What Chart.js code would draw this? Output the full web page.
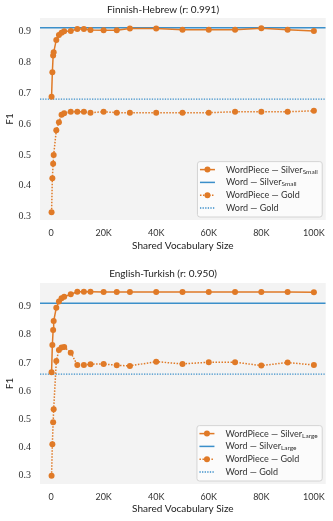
<!DOCTYPE html>
<html>
<head>
<meta charset="utf-8">
<script src="https://cdn.jsdelivr.net/npm/chart.js@4/dist/chart.umd.min.js"></script>
<style>
  body { margin: 0; background: #fff; }
  .panel { position: relative; width: 333px; }
</style>
</head>
<body>
<div class="panel" style="height:258px"><canvas id="fiHe"></canvas></div>
<div class="panel" style="height:263px"><canvas id="enTr"></canvas></div>
<script>
const xMin = -4200
const xMax = 104500
const xTicks = [0, 20000, 40000, 60000, 80000, 100000]
const yTicks = [0.3, 0.4, 0.5, 0.6, 0.7, 0.8, 0.9]

const vocabSizes = [200, 500, 800, 1000, 2000, 3000, 4000, 5000, 7500, 10000, 12500, 15000,
  20000, 25000, 30000, 40000, 50000, 60000, 70000, 80000, 90000, 100000]

// Finnish-Hebrew
const fiHeWordPieceSilver = [0.689, 0.768, 0.822, 0.833, 0.873, 0.889, 0.896, 0.901, 0.902, 0.908, 0.908, 0.905,
  0.904, 0.904, 0.910, 0.910, 0.906, 0.906, 0.906, 0.911, 0.906, 0.902]
const fiHeWordPieceGold = [0.314, 0.424, 0.471, 0.500, 0.580, 0.606, 0.630, 0.635, 0.640, 0.640, 0.640, 0.637,
  0.640, 0.637, 0.637, 0.637, 0.637, 0.637, 0.640, 0.640, 0.640, 0.643]
const fiHeWordSilver = 0.912
const fiHeWordGold = 0.681

// English-Turkish
const enTrWordPieceSilver = [0.667, 0.764, 0.817, 0.849, 0.896, 0.918, 0.930, 0.935, 0.944, 0.953, 0.953, 0.953,
  0.952, 0.952, 0.952, 0.952, 0.952, 0.952, 0.952, 0.952, 0.952, 0.951]
const enTrWordPieceGold = [0.300, 0.412, 0.490, 0.536, 0.707, 0.746, 0.755, 0.757, 0.737, 0.693, 0.693, 0.696,
  0.697, 0.692, 0.690, 0.705, 0.697, 0.703, 0.703, 0.691, 0.702, 0.693]
const enTrWordSilver = 0.912
const enTrWordGold = 0.661

const ORANGE = '#e07a27'
const BLUE = '#3b8fca'
const SANS = 'Lato'

const plotBackground = {
  id: 'plotBackground',
  beforeDraw(chart) {
    const { ctx, chartArea: a } = chart
    ctx.save()
    ctx.fillStyle = '#f3f3f3'
    ctx.fillRect(a.left, a.top, a.right - a.left, a.bottom - a.top)
    ctx.restore()
  }
}

// legend with subscripts, drawn in the lower right corner of the plot
const subLegend = {
  id: 'subLegend',
  afterDraw(chart) {
    const { ctx, chartArea: a } = chart
    const sets = chart.data.datasets
    const mainFont = '9px ' + SANS
    const subFont = '6.5px ' + SANS
    ctx.save()
    let textW = 0
    sets.forEach(ds => {
      ctx.font = mainFont
      let w = ctx.measureText(ds.label).width
      if (ds.sub) { ctx.font = subFont; w += ctx.measureText(ds.sub).width }
      textW = Math.max(textW, w)
    })
    const rowH = 12.8
    const w = 29 + textW + 4
    const h = 17 + rowH * (sets.length - 1)
    const x0 = a.right - 4 - w
    const y0 = a.bottom - 3.5 - h
    ctx.beginPath()
    ctx.roundRect(x0 + 0.5, y0 + 0.5, w, h, 2.5)
    ctx.fillStyle = 'rgba(252,252,252,0.9)'
    ctx.fill()
    ctx.strokeStyle = '#d4d4d4'
    ctx.lineWidth = 1
    ctx.stroke()
    sets.forEach((ds, i) => {
      const y = y0 + 8.5 + i * rowH
      ctx.beginPath()
      ctx.setLineDash(ds.borderDash || [])
      ctx.strokeStyle = ds.borderColor
      ctx.lineWidth = ds.borderWidth
      ctx.moveTo(x0 + 3, y)
      ctx.lineTo(x0 + 18, y)
      ctx.stroke()
      ctx.setLineDash([])
      if (ds.pointRadius > 0) {
        ctx.beginPath()
        ctx.arc(x0 + 10.5, y, ds.pointRadius, 0, Math.PI * 2)
        ctx.fillStyle = ds.pointBackgroundColor
        ctx.fill()
      }
      ctx.fillStyle = '#333'
      ctx.textBaseline = 'middle'
      ctx.font = mainFont
      ctx.fillText(ds.label, x0 + 29, y)
      if (ds.sub) {
        const lw = ctx.measureText(ds.label).width
        ctx.font = subFont
        ctx.fillText(ds.sub, x0 + 29 + lw, y + 2)
      }
    })
    ctx.restore()
  }
}

function makeChart(id, cfg) {
  const ctx = document.getElementById(id).getContext('2d')
  const toPoints = vals => vocabSizes.map((v, i) => ({ x: v, y: vals[i] }))
  const flat = val => [{ x: xMin, y: val }, { x: xMax, y: val }]
  return new Chart(ctx, {
    type: 'line',
    data: {
      datasets: [
        {
          label: 'WordPiece — Silver', sub: cfg.silverSub,
          data: toPoints(cfg.wpSilver),
          borderColor: ORANGE, borderWidth: 1.5,
          pointRadius: 3, pointBackgroundColor: ORANGE, pointBorderWidth: 0
        },
        {
          label: 'Word — Silver', sub: cfg.silverSub,
          data: flat(cfg.wSilver),
          borderColor: BLUE, borderWidth: 1.5, pointRadius: 0
        },
        {
          label: 'WordPiece — Gold',
          data: toPoints(cfg.wpGold),
          borderColor: ORANGE, borderWidth: 1.5, borderDash: [1.5, 1.5],
          pointRadius: 3, pointBackgroundColor: ORANGE, pointBorderWidth: 0
        },
        {
          label: 'Word — Gold',
          data: flat(cfg.wGold),
          borderColor: BLUE, borderWidth: 1.3, borderDash: [1.3, 1.3], pointRadius: 0
        }
      ]
    },
    options: {
      responsive: true,
      maintainAspectRatio: false,
      animation: false,
      devicePixelRatio: 1,
      layout: { padding: { left: 0, right: 7, top: 0, bottom: 0 } },
      plugins: {
        legend: { display: false },
        tooltip: { enabled: false },
        title: {
          display: true, text: cfg.title, color: '#222',
          font: { family: SANS, size: 10, weight: 'normal' },
          padding: cfg.titlePad
        }
      },
      scales: {
        x: {
          type: 'linear', min: xMin, max: xMax,
          afterBuildTicks: s => { s.ticks = xTicks.map(v => ({ value: v })) },
          afterFit: s => { s.height = cfg.xAxisH },
          grid: { display: false, drawTicks: false },
          border: { display: false },
          ticks: {
            padding: 8, color: '#333', maxRotation: 0,
            font: { family: SANS, size: 9 },
            callback: v => v === 0 ? '0' : (v / 1000) + 'K'
          },
          title: {
            display: true, text: 'Shared Vocabulary Size', color: '#222',
            font: { family: SANS, size: 10 }, padding: { top: 0, bottom: 6 }
          }
        },
        y: {
          min: cfg.yMin, max: cfg.yMax,
          afterBuildTicks: s => { s.ticks = yTicks.map(v => ({ value: v })) },
          afterFit: s => { s.width = 40 },
          grid: { display: false, drawTicks: false },
          border: { display: false },
          ticks: {
            padding: 9, color: '#333',
            font: { family: 'Liberation Serif', size: 10 },
            callback: v => v.toFixed(1)
          },
          title: {
            display: true, text: 'F1', color: '#222',
            font: { family: SANS, size: 10 }, padding: { top: 4, bottom: 0 }
          }
        }
      }
    },
    plugins: [plotBackground, subLegend]
  })
}

makeChart('fiHe', {
  title: 'Finnish-Hebrew (r: 0.991)', silverSub: 'Small',
  wpSilver: fiHeWordPieceSilver, wpGold: fiHeWordPieceGold,
  wSilver: fiHeWordSilver, wGold: fiHeWordGold,
  yMin: 0.289, yMax: 0.944, titlePad: { top: 4, bottom: 2 }, xAxisH: 38
})

makeChart('enTr', {
  title: 'English-Turkish (r: 0.950)', silverSub: 'Large',
  wpSilver: enTrWordPieceSilver, wpGold: enTrWordPieceGold,
  wSilver: enTrWordSilver, wGold: enTrWordGold,
  yMin: 0.271, yMax: 0.984, titlePad: { top: 10, bottom: 3 }, xAxisH: 37
})
</script>
</body>
</html>
